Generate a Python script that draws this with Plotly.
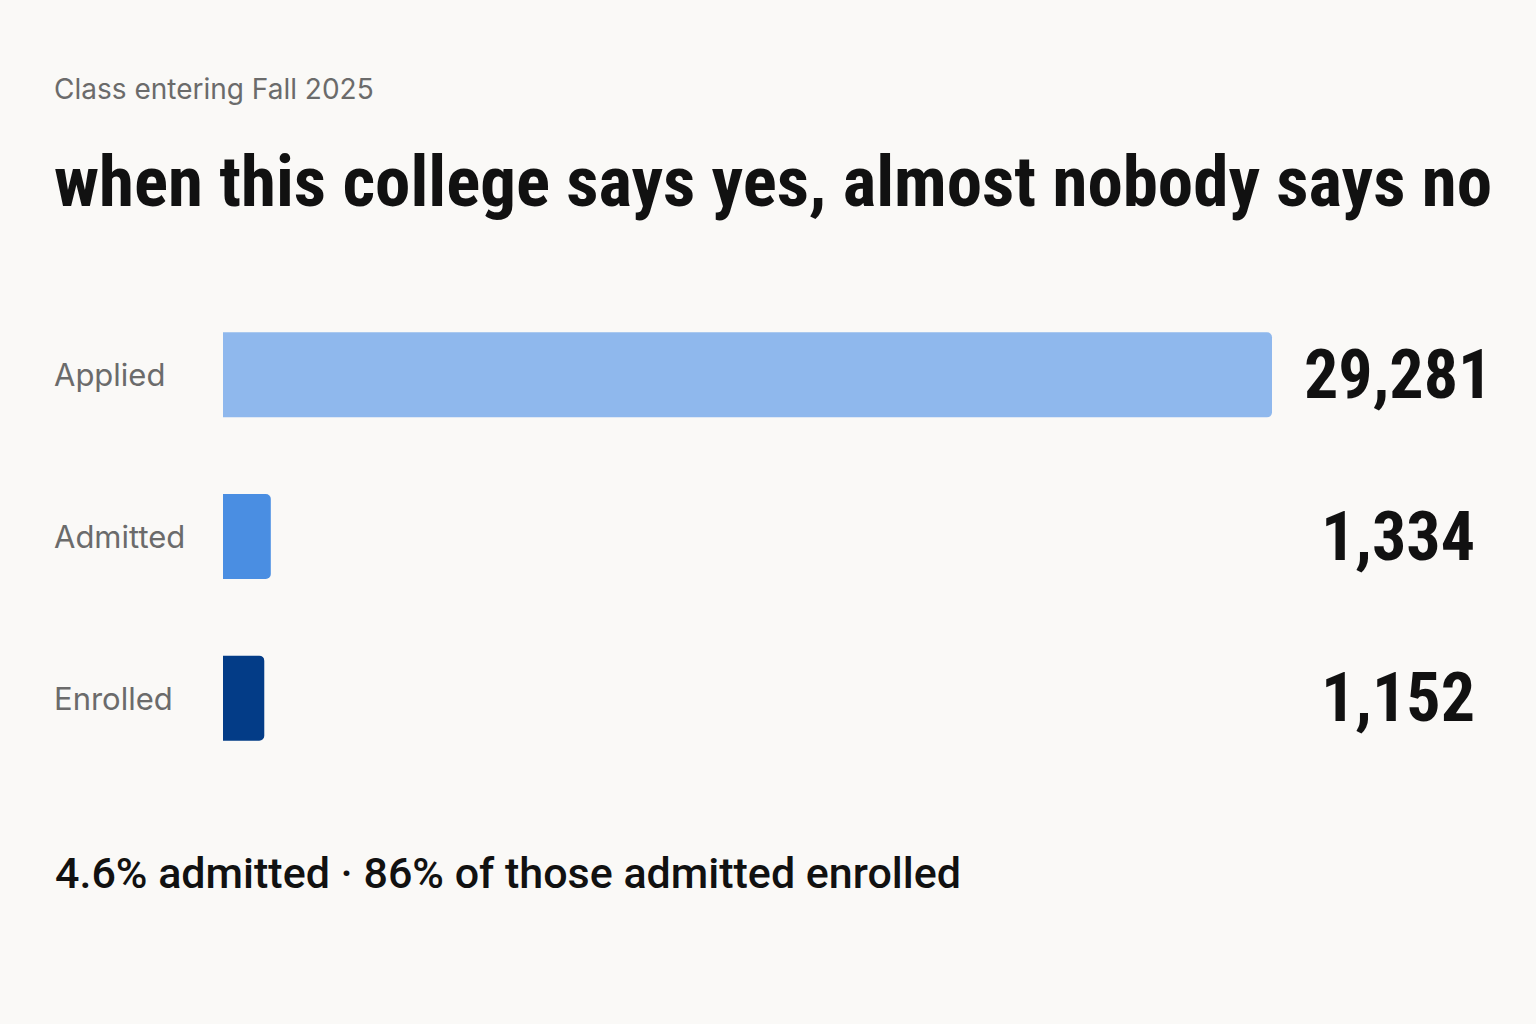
import plotly.graph_objects as go

stages = ["Applied", "Admitted", "Enrolled"]
counts = [29281, 1334, 1152]
bar_colors = ["#8fb8ed", "#4a8ee2", "#033c87"]
value_labels = ["29,281", "1,334", "1,152"]

subtitle = "Class entering Fall 2025"
title = "when this college says yes, almost nobody says no"
footer = "4.6% admitted · 86% of those admitted enrolled"

W, H = 1536, 1024
L, R, T, B = 223, 46, 294, 245
PW = W - L - R
PH = H - T - B

COND = "Roboto Condensed, Liberation Sans Narrow, Arial Narrow, Roboto, sans-serif"


def px(x):
    return (x - L) / PW


def py(y):
    return (H - B - y) / PH


fig = go.Figure()
fig.add_trace(go.Bar(
    x=counts, y=stages, orientation="h",
    marker=dict(color=bar_colors, line=dict(width=0)),
    width=0.526, hoverinfo="skip",
))

xmax = counts[0] * (1490 - 223) / (1272 - 223)

ann = []
ann.append(dict(text=subtitle, x=px(52), y=py(89), xref="paper", yref="paper",
                xanchor="left", yanchor="middle", showarrow=False,
                font=dict(family="Inter", size=28, color="#6b6b6b")))
ann.append(dict(text=title, x=px(52), y=py(182), xref="paper", yref="paper",
                xanchor="left", yanchor="middle", showarrow=False,
                font=dict(family=COND, size=71, weight=700, color="#111111")))
for s, v in zip(stages, value_labels):
    ann.append(dict(text=s, x=px(52), y=s, xref="paper", yref="y",
                    xanchor="left", yanchor="middle", showarrow=False,
                    font=dict(family="Inter", size=31, color="#6b6b6b")))
    ann.append(dict(text=v, x=px(1398), y=s, xref="paper", yref="y",
                    xanchor="center", yanchor="middle", showarrow=False,
                    font=dict(family=COND, size=68, weight=700, color="#111111")))
ann.append(dict(text=footer, x=px(53), y=py(873), xref="paper", yref="paper",
                xanchor="left", yanchor="middle", showarrow=False,
                font=dict(family="Roboto", size=43, weight=500, color="#111111")))

fig.update_layout(
    width=W, height=H,
    margin=dict(l=L, r=R, t=T, b=B),
    paper_bgcolor="#faf9f7", plot_bgcolor="#faf9f7",
    showlegend=False,
    barcornerradius=5,
    annotations=ann,
    xaxis=dict(range=[0, xmax], visible=False, fixedrange=True),
    yaxis=dict(categoryorder="array", categoryarray=stages[::-1], range=[-0.5, 2.5],
               visible=False, fixedrange=True),
)

fig.write_html("out.html", config={"displayModeBar": False},
               post_script="document.body.style.margin='0';document.body.style.background='#faf9f7';")
